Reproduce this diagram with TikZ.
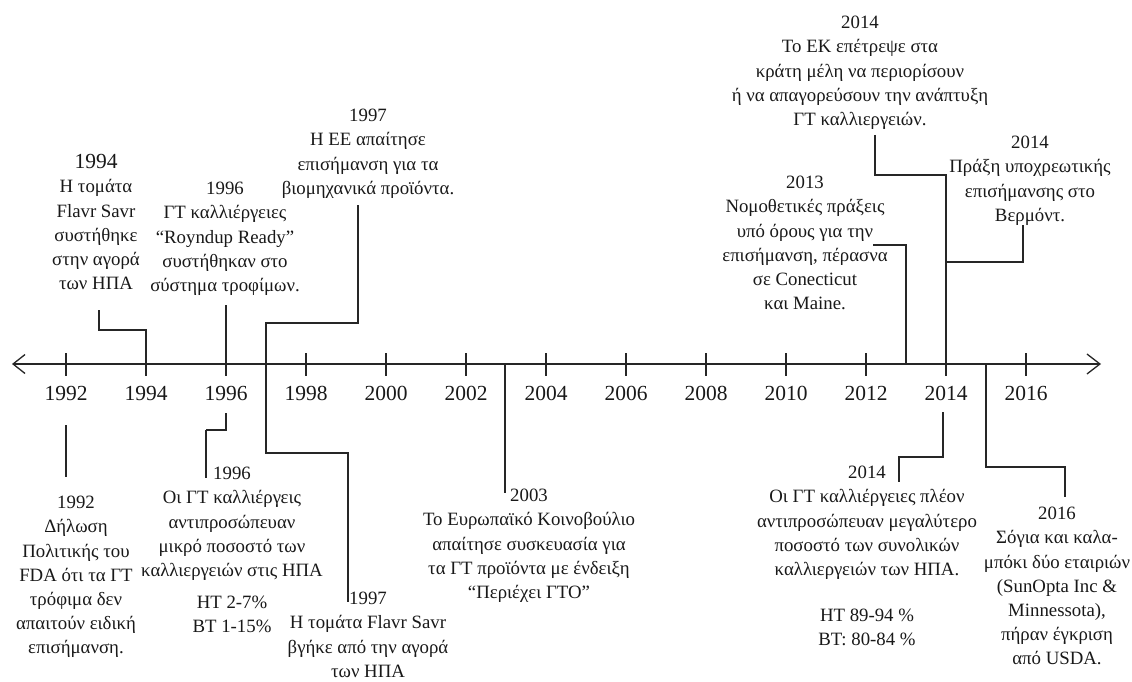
\documentclass[tikz,border=0pt]{standalone}
\usepackage{fontspec}
\setmainfont{Liberation Serif}
\usetikzlibrary{arrows.meta}
\newcommand\descfont{\fontsize{18.8}{24.2}\selectfont}
\newcommand\axfont{\fontsize{21.5}{24}\selectfont}
\begin{document}
\begin{tikzpicture}[x=1pt,y=-1pt,
  conn/.style={line width=1.4pt, draw=black!85},
  thickconn/.style={line width=2.8pt, draw=black!85},
  tickline/.style={line width=1.3pt, draw=black!85},
  desc/.style={font=\descfont, align=center, inner sep=0pt, anchor=north, text=black!90},
  yearlab/.style={font=\axfont, inner sep=0pt, anchor=base, text=black!90}]
\useasboundingbox (0,0) rectangle (1132,682);
\fill[white] (0,0) rectangle (1132,682);

% axis
\coordinate (axL) at (12,364);
\coordinate (axR) at (1101,364);
\draw[line width=1.3pt, draw=black!85,
  {Straight Barb[length=12pt,width=19pt]}-{Straight Barb[length=13pt,width=20pt]}] (axL) -- (axR);

% ticks and year labels
\foreach \yr in {1992,1994,...,2016}{
  \pgfmathsetmacro\xx{66+40*(\yr-1992)}
  \coordinate (tk\yr) at (\xx,364);
  \draw[tickline] (\xx,353) -- (\xx,376);
  \node[yearlab] (yl\yr) at (\xx,400) {\yr};
}

% event points on the axis
\coordinate (e1994) at (146,364);
\coordinate (e1996) at (226,364);
\coordinate (e1997) at (266,364);
\coordinate (e2003) at (505,364);
\coordinate (e2013) at (906,364);
\coordinate (e2014) at (946,364);
\coordinate (e2015) at (986,364);

% text blocks above
\node[desc] (t1994) at (96,151.5) {\strut{\fontsize{21.5}{24.2}\selectfont 1994}\\Η τομάτα\\Flavr Savr\\συστήθηκε\\στην αγορά\\των ΗΠΑ};
\node[desc] (t1996a) at (225,177.5) {\strut 1996\\ΓΤ καλλιέργειες\\“Roynduр Ready”\\συστήθηκαν στο\\σύστημα τροφίμων.};
\node[desc] (t1997a) at (368,104.5) {\strut 1997\\Η ΕΕ απαίτησε\\επισήμανση για τα\\βιομηχανικά προϊόντα.};
\node[desc] (t2014a) at (860,11.5) {\strut 2014\\Το ΕΚ επέτρεψε στα\\κράτη μέλη να περιορίσουν\\ή να απαγορεύσουν την ανάπτυξη\\ΓΤ καλλιεργειών.};
\node[desc] (t2013) at (805,171.5) {\strut 2013\\Νομοθετικές πράξεις\\υπό όρους για την\\επισήμανση, πέρασνα\\σε Conecticut\\και Maine.};
\node[desc] (t2014b) at (1030,131.5) {\strut 2014\\Πράξη υποχρεωτικής\\επισήμανσης στο\\Βερμόντ.};

% text blocks below
\node[desc] (t1992) at (76,491.5) {\strut 1992\\Δήλωση\\Πολιτικής του\\FDA ότι τα ΓΤ\\τρόφιμα δεν\\απαιτούν ειδική\\επισήμανση.};
\node[desc] (t1996b) at (232,462.5) {\strut 1996\\Οι ΓΤ καλλιέργεις\\αντιπροσώπευαν\\μικρό ποσοστό των\\καλλιεργειών στις ΗΠΑ\\[8pt]HT 2-7\%\\BT 1-15\%};
\node[desc] (t1997b) at (368,587.5) {\strut 1997\\Η τομάτα Flavr Savr\\βγήκε από την αγορά\\των ΗΠΑ};
\node[desc] (t2003) at (529,484.5) {\strut 2003\\Το Ευρωπαϊκό Κοινοβούλιο\\απαίτησε συσκευασία για\\τα ΓΤ προϊόντα με ένδειξη\\“Περιέχει ΓΤΟ”};
\node[desc] (t2014c) at (867,461.5) {\strut 2014\\Οι ΓΤ καλλιέργειες πλέον\\αντιπροσώπευαν μεγαλύτερο\\ποσοστό των συνολικών\\καλλιεργειών των ΗΠΑ.\\[22pt]HT 89-94 \%\\BT: 80-84 \%};
\node[desc] (t2016) at (1057,502.5) {\strut 2016\\Σόγια και καλα-\\μπόκι δύο εταιριών\\(SunOpta Inc \&\\Minnessota),\\πήραν έγκριση\\από USDA.};

% connector ends near the texts
\coordinate (s1994) at (99,310);
\coordinate (s1996a) at (226,305);
\coordinate (s1997a) at (358,205);
\coordinate (s2014a) at (875,135);
\coordinate (s2013) at (873,245);
\coordinate (s2014b) at (1023,225);
\coordinate (s1992a) at (66,425);
\coordinate (s1992b) at (66,477);
\coordinate (s1996b) at (226,413);
\coordinate (s1996c) at (206,430);
\coordinate (s1996d) at (206,478);
\coordinate (s1997b) at (348,602);
\coordinate (s2003) at (505,493);
\coordinate (s2014c) at (943,412);
\coordinate (s2014d) at (899,482);
\coordinate (s2016) at (1065,497);

% connectors
\draw[conn] (s1994) |- (146,330) -- (e1994);
\draw[conn] (s1996a) -- (e1996);
\draw[conn] (s1997a) |- (266,323) -- (e1997);
\draw[conn] (e1997) |- (348,453) -- (s1997b);
\draw[conn] (s2014a) |- (946,175) -- (e2014);
\draw[conn] (s2014b) |- (946,262);
\draw[conn] (s2013) -| (e2013);
\draw[conn] (s1992a) -- (s1992b);
\draw[conn] (s1996b) |- (s1996c);
\draw[thickconn] (s1996c) -- (s1996d);
\draw[conn] (e2003) -- (s2003);
\draw[conn] (s2014c) |- (899,457) -- (s2014d);
\draw[conn] (e2015) |- (1065,467) -- (s2016);
\end{tikzpicture}
\end{document}
